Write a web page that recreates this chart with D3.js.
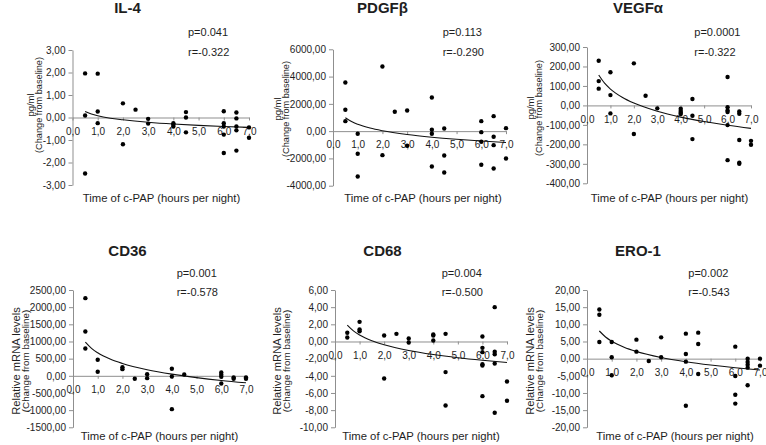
<!DOCTYPE html>
<html>
<head>
<meta charset="utf-8">
<script src="https://cdn.jsdelivr.net/npm/d3@7"></script>
<style>
  html, body { margin: 0; padding: 0; background: #fff; }
  svg { display: block; font-family: "Liberation Sans", Arial, sans-serif; }
</style>
</head>
<body>
<svg id="chart" width="766" height="445"></svg>
<script>
// ---------- DATA ----------
const titles = ["IL-4", "PDGFβ", "VEGFα", "CD36", "CD68", "ERO-1"];
const pLabels = ["p=0.041", "p=0.113", "p=0.0001", "p=0.001", "p=0.004", "p=0.002"];
const rLabels = ["r=-0.322", "r=-0.290", "r=-0.322", "r=-0.578", "r=-0.500", "r=-0.543"];
const yUnitLabels = ["pg/ml", "pg/ml", "pg/ml", "Relative mRNA levels", "Relative mRNA levels", "Relative mRNA levels"];
const yChangeLabel = "(Change from baseline)";
const xAxisTitle = "Time of c-PAP (hours per night)";
const xTicks = [0, 1, 2, 3, 4, 5, 6, 7];

const il4Ticks = [3, 2, 1, 0, -1, -2, -3];
const pdgfbTicks = [6000, 4000, 2000, 0, -2000, -4000];
const vegfaTicks = [300, 200, 100, 0, -100, -200, -300, -400];
const cd36Ticks = [2500, 2000, 1500, 1000, 500, 0, -500, -1000, -1500];
const cd68Ticks = [6, 4, 2, 0, -2, -4, -6, -8, -10];
const ero1Ticks = [20, 15, 10, 5, 0, -5, -10, -15, -20];

const il4 = [[0.5,1.96],[0.5,0.09],[0.5,-2.49],[1,1.95],[1,0.27],[1,-0.25],[2,0.63],[2,-1.19],
  [2.5,0.35],[3,-0.06],[3,-0.27],[4,-0.25],[4,-0.32],[4,-0.40],[4.5,0.24],[4.5,0.0],[4.5,-0.66],
  [6,0.28],[6,-0.25],[6,-0.40],[6,-0.76],[6,-1.58],[6.5,0.22],[6.5,-0.04],[6.5,-0.40],[6.5,-0.57],
  [6.5,-1.47],[7,-0.44],[7,-0.90]];
const pdgfb = [[0.5,3570],[0.5,1565],[0.5,733],[1,-196],[1,-1663],[1,-3325],[2,4743],[2,-1760],
  [2.5,1418],[3,1516],[3,-1076],[4,2469],[4,98],[4,-196],[4,-2592],[4.5,196],[4.5,-1785],[4.5,-3032],
  [6,733],[6,-73],[6,-782],[6,-2469],[6.5,1100],[6.5,-416],[6.5,-1027],[6.5,-2738],[7,220],[7,-2005]];
const vegfa = [[0.5,229],[0.5,125],[0.5,86],[1,170],[1,53],[1,-41],[2,216],[2,-147],[2.5,50],[3,-15],
  [4,-17],[4,-29],[4,-38],[4,-44],[4.5,33],[4.5,-53],[4.5,-173],[6,146],[6,-9],[6,-26],[6,-34],
  [6,-101],[6,-281],[6.5,-31],[6.5,-43],[6.5,-178],[6.5,-294],[6.5,-300],[7,-182],[7,-202]];
const cd36 = [[0.5,2262],[0.5,1291],[0.5,796],[1,466],[1,117],[2,252],[2,194],[2.5,-87],[3,49],[3,-68],
  [4,204],[4,-19],[4,-971],[4.5,39],[6,97],[6,29],[6,-29],[6,-223],[6.5,-49],[6.5,-87],[7,-49],[7,-87]];
const cd68 = [[0.5,1.01],[0.5,0.47],[1,2.29],[1,1.40],[1,1.20],[2,0.70],[2,-4.31],[2.5,0.89],[3,0.35],
  [3,-0.12],[4,0.82],[4,0.70],[4,0.12],[4.5,0.89],[4.5,-3.57],[4.5,-7.46],[6,0.58],[6,-0.74],[6,-1.24],
  [6,-2.64],[6,-2.80],[6,-6.37],[6.5,4.0],[6.5,-1.20],[6.5,-1.48],[6.5,-2.56],[6.5,-8.31],[7,-4.66],[7,-6.91]];
const ero1 = [[0.5,14.3],[0.5,12.8],[0.5,4.85],[1,4.85],[1,0.39],[1,-4.85],[2,5.53],[2,2.04],[2.5,-0.68],
  [3,6.21],[3,0.39],[4,7.28],[4,1.36],[4,-0.87],[4,-13.7],[4.5,7.57],[4.5,4.27],[4.5,-4.47],[6,3.5],
  [6,-5.05],[6,-10.5],[6,-13.1],[6.5,0],[6.5,-0.97],[6.5,-1.75],[6.5,-2.62],[6.5,-7.77],[7,0],[7,-2.04]];

// logarithmic trend lines
const il4Trend = [[0.5,0.27],[0.75,0.16],[1,0.08],[1.5,-0.03],[2,-0.10],[3,-0.21],[4,-0.29],[5,-0.35],[6,-0.40],[7,-0.44]];
const pdgfbTrend = [[0.5,978],[0.75,700],[1,503],[1.5,225],[2,28],[3,-250],[4,-447],[5,-600],[6,-725],[7,-831]];
const vegfaTrend = [[0.5,156],[0.75,114],[1,84],[1.5,42],[2,12],[3,-30],[4,-60],[5,-83],[6,-102],[7,-118]];
const cd36Trend = [[0.5,981],[0.75,799],[1,670],[1.5,488],[2,359],[3,177],[4,48],[5,-52],[6,-135],[7,-204]];
const cd68Trend = [[0.5,1.90],[0.75,1.23],[1,0.76],[1.5,0.09],[2,-0.38],[3,-1.05],[4,-1.52],[5,-1.89],[6,-2.19],[7,-2.45]];
const ero1Trend = [[0.5,8.06],[0.75,6.32],[1,5.08],[1.5,3.34],[2,2.10],[3,0.35],[4,-0.88],[5,-1.84],[6,-2.63],[7,-3.29]];

const pointsList = [il4, pdgfb, vegfa, cd36, cd68, ero1];
const trendList = [il4Trend, pdgfbTrend, vegfaTrend, cd36Trend, cd68Trend, ero1Trend];
const tickList = [il4Ticks, pdgfbTicks, vegfaTicks, cd36Ticks, cd68Ticks, ero1Ticks];

// ---------- LAYOUT ----------
const layout = [
  {x0:72.5, x7:249, yT:50,   yB:185,   cx:127.5, tY:13,  px:188,   pY:36,    rY:55.5,  xtC:161.5, xtY:201.5, yl1:30,   yl2:38.5, ylC:105, f1:9.5, f2:9.2},
  {x0:333,  x7:506, yT:49.3, yB:185.7, cx:382.5, tY:13,  px:442.7, pY:36,    rY:55.5,  xtC:423,   xtY:202,   yl1:277.5, yl2:286, ylC:109, f1:9.5, f2:9.2},
  {x0:587,  x7:751, yT:47,   yB:183.3, cx:638,   tY:13,  px:694.3, pY:36,    rY:55.5,  xtC:669.5, xtY:202,   yl1:530,  yl2:538.5, ylC:108, f1:9.5, f2:9.2},
  {x0:73,   x7:246, yT:290,  yB:427.3, cx:127.5, tY:256, px:176.7, pY:276.5, rY:295.5, xtC:159.5, xtY:439.5, yl1:15.5, yl2:25, ylC:361, f1:11.2, f2:9.8},
  {x0:335,  x7:507, yT:290,  yB:427.3, cx:382.5, tY:256, px:441.7, pY:276.5, rY:295.5, xtC:421,   xtY:439.5, yl1:277, yl2:286, ylC:361, f1:11.2, f2:9.8},
  {x0:587,  x7:760, yT:290,  yB:427.3, cx:638,   tY:256, px:688.3, pY:276.5, rY:295.5, xtC:675,   xtY:439.5, yl1:530, yl2:539, ylC:361, f1:11.2, f2:9.8}
];

const axisColor = "#8f8f8f";
const textColor = "#1e1e1e";
const svg = d3.select("#chart");

const fmtY = v => v.toFixed(2).replace(".", ",");
const fmtX = v => v.toFixed(1).replace(".", ",");

titles.forEach((title, i) => {
  const L = layout[i];
  const ticks = tickList[i];
  const g = svg.append("g");

  const x = d3.scaleLinear().domain([0, 7]).range([L.x0, L.x7]);
  const y = d3.scaleLinear().domain([d3.max(ticks), d3.min(ticks)]).range([L.yT, L.yB]);

  // Y axis
  const yAxis = g.append("g")
    .attr("transform", `translate(${L.x0},0)`)
    .call(d3.axisLeft(y).tickValues(ticks).tickFormat(fmtY).tickSize(4).tickPadding(3).tickSizeOuter(0));
  yAxis.select(".domain").attr("stroke", axisColor);
  yAxis.selectAll(".tick line").attr("stroke", axisColor);
  yAxis.selectAll(".tick text").attr("fill", textColor).style("font-size", "10px")
    .style("font-family", "'Liberation Sans', Arial, sans-serif");

  // X axis at zero
  const xAxis = g.append("g")
    .attr("transform", `translate(0,${y(0)})`)
    .call(d3.axisBottom(x).tickValues(xTicks).tickFormat(fmtX).tickSize(3).tickPadding(7).tickSizeOuter(0));
  xAxis.select(".domain").attr("stroke", axisColor);
  xAxis.selectAll(".tick line").attr("stroke", axisColor);
  xAxis.selectAll(".tick text").attr("fill", textColor).style("font-size", "10px")
    .style("font-family", "'Liberation Sans', Arial, sans-serif");

  // Trend line
  const line = d3.line().x(d => x(d[0])).y(d => y(d[1])).curve(d3.curveMonotoneX);
  g.append("path").datum(trendList[i])
    .attr("d", line).attr("fill", "none").attr("stroke", "#111").attr("stroke-width", 1.1);

  // Points
  g.selectAll("circle.pt").data(pointsList[i]).enter().append("circle")
    .attr("class", "pt")
    .attr("cx", d => x(d[0])).attr("cy", d => y(d[1])).attr("r", 2.2).attr("fill", "#000");

  // Title
  g.append("text").attr("x", L.cx).attr("y", L.tY).attr("text-anchor", "middle")
    .attr("fill", textColor).style("font-size", "15px").style("font-weight", "bold").text(title);

  // p / r
  g.append("text").attr("x", L.px).attr("y", L.pY).attr("fill", textColor)
    .style("font-size", "11px").text(pLabels[i]);
  g.append("text").attr("x", L.px).attr("y", L.rY).attr("fill", textColor)
    .style("font-size", "11px").text(rLabels[i]);

  // X axis title
  g.append("text").attr("x", L.xtC).attr("y", L.xtY).attr("text-anchor", "middle")
    .attr("fill", textColor).style("font-size", "11.3px").text(xAxisTitle);

  // Y axis title (two rotated lines)
  g.append("text").attr("transform", `translate(${L.yl1},${L.ylC}) rotate(-90)`)
    .attr("text-anchor", "middle").attr("dominant-baseline", "central")
    .attr("fill", textColor).style("font-size", L.f1 + "px").text(yUnitLabels[i]);
  g.append("text").attr("transform", `translate(${L.yl2},${L.ylC}) rotate(-90)`)
    .attr("text-anchor", "middle").attr("dominant-baseline", "central")
    .attr("fill", textColor).style("font-size", L.f2 + "px").text(yChangeLabel);
});
</script>
</body>
</html>
